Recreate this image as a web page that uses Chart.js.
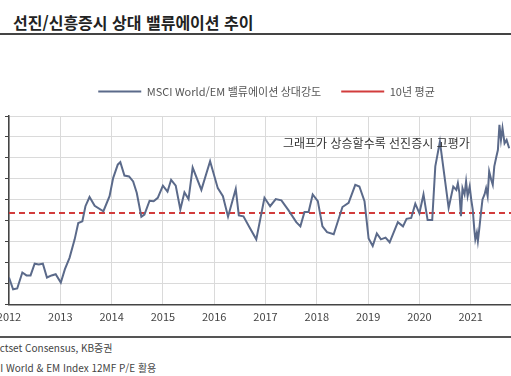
<!DOCTYPE html>
<html lang="ko">
<head>
<meta charset="utf-8">
<script src="https://cdn.jsdelivr.net/npm/chart.js@4"></script>
<style>
  html, body { margin: 0; padding: 0; background: #fff; }
  body { width: 511px; height: 376px; overflow: hidden; position: relative;
         font-family: 'Noto Sans CJK KR', 'Noto Sans', sans-serif; color: #333; }
  .title { position: absolute; left: 13px; top: 12px; font-size: 16px; line-height: 20px; font-weight: bold; color: #222; white-space: nowrap; }
  .rule { position: absolute; left: 0; width: 511px; background: #444; }
  #wrap { position: absolute; left: -20px; top: 66px; width: 548px; height: 266px; }
  .memo { position: absolute; left: 283px; top: 135px; font-size: 12px; line-height: 16px; color: #333; white-space: nowrap; }
  .note { position: absolute; left: 0; font-size: 10px; line-height: 14px; color: #444; white-space: nowrap; }
</style>
</head>
<body>
<div class="title">선진/신흥증시 상대 밸류에이션 추이</div>
<div class="rule" style="top:33px;height:2px"></div>
<div id="wrap"><canvas id="chart"></canvas></div>
<div class="memo">그래프가 상승할수록 선진증시 고평가</div>
<div class="rule" style="top:336px;height:1.5px;background:#555"></div>
<div class="note" style="top:341px"><span class="cut">자료: Fa</span>ctset Consensus, KB증권</div>
<div class="note" style="top:361px"><span class="cut">주: MSC</span>I World &amp; EM Index 12MF P/E 활용</div>

<script>
// decimal year of each reading
const years = [
  2012.00, 2012.08, 2012.16, 2012.26, 2012.34, 2012.42, 2012.50, 2012.58, 2012.66, 2012.74, 2012.83, 2012.91,
  2013.01, 2013.09, 2013.18, 2013.28, 2013.35, 2013.43, 2013.49, 2013.57, 2013.67, 2013.84, 2013.96,
  2014.03, 2014.12, 2014.17, 2014.25, 2014.34, 2014.42, 2014.49, 2014.58, 2014.64, 2014.74, 2014.82, 2014.90,
  2015.00, 2015.09, 2015.16, 2015.25, 2015.34, 2015.42, 2015.50, 2015.58, 2015.75, 2015.92,
  2016.07, 2016.17, 2016.27, 2016.42, 2016.48, 2016.57, 2016.69, 2016.82, 2016.98,
  2017.09, 2017.20, 2017.31, 2017.45, 2017.60, 2017.68, 2017.76, 2017.84, 2017.92,
  2018.02, 2018.11, 2018.20, 2018.33, 2018.50, 2018.62, 2018.75, 2018.83, 2018.93,
  2019.01, 2019.09, 2019.17, 2019.25, 2019.34, 2019.42, 2019.58, 2019.68, 2019.75, 2019.84, 2019.92,
  2020.00, 2020.08, 2020.16, 2020.25, 2020.31, 2020.40, 2020.57, 2020.66, 2020.72, 2020.75, 2020.78, 2020.81,
  2020.84, 2020.88, 2020.91, 2020.94, 2020.98,
  2021.01, 2021.04, 2021.07, 2021.09, 2021.12, 2021.14, 2021.17, 2021.20, 2021.23, 2021.27, 2021.30, 2021.33,
  2021.36, 2021.40, 2021.43, 2021.46, 2021.50, 2021.53, 2021.56, 2021.59, 2021.62, 2021.66, 2021.70, 2021.75
];
// MSCI World / EM 12MF P/E relative strength
const ratio = [
  1.165, 1.137, 1.139, 1.177, 1.170, 1.170, 1.198, 1.196, 1.198, 1.165, 1.170, 1.173,
  1.153, 1.185, 1.212, 1.256, 1.295, 1.299, 1.335, 1.357, 1.336, 1.323, 1.359,
  1.402, 1.434, 1.440, 1.408, 1.406, 1.394, 1.367, 1.310, 1.315, 1.348, 1.347, 1.355,
  1.384, 1.370, 1.398, 1.384, 1.327, 1.368, 1.352, 1.427, 1.374, 1.442,
  1.378, 1.359, 1.310, 1.376, 1.313, 1.311, 1.284, 1.256, 1.355,
  1.335, 1.352, 1.349, 1.325, 1.297, 1.287, 1.321, 1.321, 1.363,
  1.347, 1.287, 1.273, 1.268, 1.333, 1.343, 1.386, 1.382, 1.347,
  1.258, 1.240, 1.270, 1.256, 1.260, 1.249, 1.297, 1.287, 1.305, 1.307, 1.341,
  1.318, 1.363, 1.302, 1.302, 1.430, 1.489, 1.331, 1.382, 1.374, 1.390, 1.367, 1.311,
  1.378, 1.363, 1.394, 1.359, 1.382,
  1.351, 1.327, 1.280, 1.256, 1.272, 1.252, 1.284, 1.319, 1.351, 1.363, 1.378, 1.359,
  1.418, 1.398, 1.386, 1.430, 1.453, 1.469, 1.529, 1.493, 1.521, 1.485, 1.493, 1.473
];
const tenYearAvg = 1.319;
const seriesNames = ['MSCI World/EM 밸류에이션 상대강도', '10년 평균'];
const LAST_LABEL_YEAR = 2021;

const X_MIN = 2012, X_MAX = 2022.117;
const Y_MIN = 1.10, Y_MAX = 1.55;
const LINE_COLOR = '#5b6a8a';
const AVG_COLOR = '#d23c3c';
const GRID = '#dadada';

// cut the left part of the footnotes, as in the cropped source
document.querySelectorAll('.note').forEach(n => {
  n.style.left = -n.querySelector('.cut').offsetWidth + 'px';
});

Chart.defaults.font.family = "'Noto Sans CJK KR', 'Noto Sans', sans-serif";

// a bit more room between legend and plot
const legendGap = {
  id: 'legendGap',
  beforeUpdate(chart) {
    const lg = chart.legend;
    if (!lg || lg._gapPatched) return;
    const fit = lg.fit;
    lg.fit = function () { fit.call(this); this.height += 9; };
    lg._gapPatched = true;
  }
};

const ctx = document.getElementById('chart').getContext('2d');
new Chart(ctx, {
  type: 'line',
  data: {
    datasets: [
      {
        label: seriesNames[0],
        data: years.map((x, i) => ({ x: x, y: ratio[i] })),
        borderColor: LINE_COLOR,
        backgroundColor: LINE_COLOR,
        borderWidth: 2,
        pointRadius: 0,
        tension: 0,
      },
      {
        label: seriesNames[1],
        data: [{ x: X_MIN, y: tenYearAvg }, { x: X_MAX, y: tenYearAvg }],
        borderColor: AVG_COLOR,
        backgroundColor: AVG_COLOR,
        borderWidth: 2,
        borderDash: [6, 4],
        pointRadius: 0,
      },
    ],
  },
  plugins: [legendGap],
  options: {
    responsive: true,
    maintainAspectRatio: false,
    animation: false,
    layout: { padding: { left: 25, right: 0, top: 0, bottom: 4 } },
    plugins: {
      legend: {
        labels: {
          usePointStyle: true,
          pointStyle: 'line',
          pointStyleWidth: 43,
          padding: 20,
          color: '#555',
          font: { size: 11 },
        },
      },
      tooltip: { enabled: false },
    },
    scales: {
      x: {
        type: 'linear',
        min: X_MIN,
        max: X_MAX,
        ticks: {
          stepSize: 1,
          includeBounds: false,
          padding: 5,
          color: '#444',
          font: { size: 11 },
          callback: (v) => (v > LAST_LABEL_YEAR ? null : String(v)),
        },
        grid: { color: GRID, drawTicks: false },
        border: { color: '#444', width: 1.5 },
      },
      y: {
        min: Y_MIN,
        max: Y_MAX,
        ticks: { stepSize: 0.05, display: false },
        grid: { color: GRID, tickLength: 4, tickColor: '#444' },
        border: { color: '#444', width: 1.5 },
      },
    },
  },
});
</script>
</body>
</html>
